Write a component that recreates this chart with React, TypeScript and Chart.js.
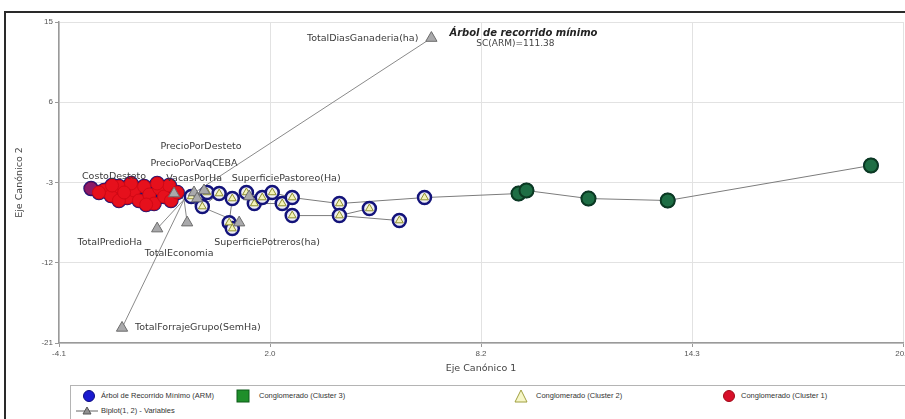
import React, { useEffect, useRef } from "react";
import { Chart, registerables } from "chart.js";

Chart.register(...registerables);

// Axis ticks
const xTicks = [-4.1, 2.025, 8.15, 14.275, 20.4];
const yTicks = [-21, -12, -3, 6, 15];

// Cluster 1 observations
const cluster1X = [-3.17, -2.79, -2.59, -2.36, -2.12, -1.92, -1.78, -1.63, -1.48, -1.34, -1.19, -1.05, -0.9, -0.85, -2.36, -2.01, -0.67, -2.56, -1.57, -1.25, -2.94, -2.21];
const cluster1Y = [-3.67, -3.9, -4.46, -3.45, -4.69, -3.9, -5.02, -3.45, -4.35, -5.36, -3.67, -4.57, -3.34, -5.02, -5.02, -3.11, -4.12, -3.34, -5.47, -3.11, -4.12, -4.12];

// Cluster 2 observations
const cluster2X = [-0.26, 0.06, 0.2, 0.55, 0.93, 0.84, 0.93, 1.34, 1.57, 1.8, 2.09, 2.38, 2.67, 2.67, 4.04, 4.04, 4.91, 5.78, 6.51];
const cluster2Y = [-4.57, -5.7, -4.12, -4.24, -4.8, -7.5, -8.17, -4.12, -5.36, -4.69, -4.12, -5.36, -4.69, -6.71, -5.36, -6.71, -5.92, -7.27, -4.69];

// Cluster 3 observations
const cluster3X = [9.24, 9.47, 11.27, 13.57, 19.47];
const cluster3Y = [-4.24, -3.9, -4.8, -5.02, -1.09];

// Minimum spanning tree, as chains of [cluster, index]
const armChains: [string, number][][] = [
  [["c1", 0], ["c1", 20], ["c1", 1], ["c1", 17], ["c1", 3], ["c1", 15], ["c1", 5], ["c1", 7], ["c1", 10], ["c1", 19], ["c1", 12], ["c1", 16], ["c2", 0]],
  [["c1", 2], ["c1", 21], ["c1", 4], ["c1", 14], ["c1", 6], ["c1", 18], ["c1", 9], ["c1", 13], ["c1", 16]],
  [["c2", 0], ["c2", 2], ["c2", 3], ["c2", 4], ["c2", 7], ["c2", 9], ["c2", 10], ["c2", 12], ["c2", 14], ["c2", 18], ["c3", 0], ["c3", 1], ["c3", 2], ["c3", 3], ["c3", 4]],
  [["c2", 1], ["c2", 3]],
  [["c2", 4], ["c2", 5], ["c2", 6]],
  [["c2", 8], ["c2", 11], ["c2", 13], ["c2", 15], ["c2", 17]],
  [["c2", 15], ["c2", 16]],
];

// Biplot variables
const variableNames = [
  "TotalDiasGanaderia(ha)",
  "TotalForrajeGrupo(SemHa)",
  "TotalPredioHa",
  "TotalEconomia",
  "SuperficiePotreros(ha)",
  "PrecioPorDesteto",
  "PrecioPorVaqCEBA",
  "CostoDesteto",
  "VacasPorHa",
  "SuperficiePastoreo(Ha)",
];
const variableX = [6.71, -2.27, -1.25, -0.38, 1.13, 0.11, -0.18, -0.76, -0.09, 1.42];
const variableY = [13.2, -19.31, -8.17, -7.5, -7.5, -3.9, -4.12, -4.24, -4.8, -4.57];
const biplotOrigin = { x: -0.47, y: -4.91 };

const armTitle = "Árbol de recorrido mínimo";
const armStat = "SC(ARM)=111.38";

const legendItems = [
  "Árbol de Recorrido Mínimo (ARM)",
  "Conglomerado (Cluster 3)",
  "Conglomerado (Cluster 2)",
  "Conglomerado (Cluster 1)",
  "Biplot(1, 2) - Variables",
];

// Text placement around each variable marker (pixels)
const labelPlacement: { dx: number; dy: number; align: CanvasTextAlign }[] = [
  { dx: -13, dy: 0, align: "right" },
  { dx: 13, dy: 0, align: "left" },
  { dx: -15, dy: 14, align: "right" },
  { dx: -8, dy: 31, align: "center" },
  { dx: 28, dy: 20, align: "center" },
  { dx: -3, dy: -44, align: "center" },
  { dx: 0, dy: -29, align: "center" },
  { dx: -60, dy: -17, align: "center" },
  { dx: -3, dy: -20, align: "center" },
  { dx: 37, dy: -18, align: "center" },
];

const FONT = "'Liberation Sans', Arial, sans-serif";
const WIDE = "'DejaVu Sans', Verdana, sans-serif";

const zip = (xs: number[], ys: number[]) => xs.map((x, i) => ({ x, y: ys[i] }));

const labelPlugin = {
  id: "biplotLabels",
  afterDatasetsDraw(chart: any) {
    const { ctx } = chart;
    const xs = chart.scales.x;
    const ys = chart.scales.y;
    ctx.save();
    ctx.font = `9.5px ${WIDE}`;
    ctx.fillStyle = "#3a3a3a";
    ctx.textBaseline = "middle";
    variableNames.forEach((name, i) => {
      const p = labelPlacement[i];
      ctx.textAlign = p.align;
      ctx.fillText(name, xs.getPixelForValue(variableX[i]) + p.dx, ys.getPixelForValue(variableY[i]) + p.dy);
    });
    const ax = xs.getPixelForValue(variableX[0]);
    const ay = ys.getPixelForValue(variableY[0]);
    ctx.fillStyle = "#222";
    ctx.textAlign = "left";
    ctx.font = `italic bold 10px ${WIDE}`;
    ctx.fillText(armTitle, ax + 18, ay - 5);
    ctx.font = `9px ${WIDE}`;
    ctx.textAlign = "center";
    ctx.fillStyle = "#444";
    ctx.fillText(armStat, ax + 84, ay + 6);
    ctx.restore();
  },
};

function Marker({ kind }: { kind: string }) {
  if (kind === "circleBlue")
    return (
      <svg width="14" height="14"><circle cx="7" cy="7" r="5.5" fill="#1a1ad0" stroke="#0c0c80" strokeWidth="1" /></svg>
    );
  if (kind === "square")
    return (
      <svg width="14" height="14"><rect x="1" y="1" width="12" height="12" fill="#1f8f2a" stroke="#0d5a18" strokeWidth="1" /></svg>
    );
  if (kind === "triangle")
    return (
      <svg width="14" height="14"><polygon points="7,1 13,13 1,13" fill="#f6f6c8" stroke="#a0a040" strokeWidth="1" /></svg>
    );
  if (kind === "circleRed")
    return (
      <svg width="14" height="14"><circle cx="7" cy="7" r="5.5" fill="#d8102a" stroke="#a00818" strokeWidth="1" /></svg>
    );
  return (
    <svg width="22" height="12">
      <line x1="0" y1="6" x2="22" y2="6" stroke="#666" strokeWidth="1" />
      <polygon points="11,2 15,9 7,9" fill="#909090" stroke="#555" strokeWidth="1" />
    </svg>
  );
}

export default function App() {
  const canvasRef = useRef<HTMLCanvasElement | null>(null);

  useEffect(() => {
    if (!canvasRef.current) return;
    const obs: Record<string, { x: number; y: number }[]> = {
      c1: zip(cluster1X, cluster1Y),
      c2: zip(cluster2X, cluster2Y),
      c3: zip(cluster3X, cluster3Y),
    };
    const allObs = [...obs.c1, ...obs.c2, ...obs.c3];
    const variables = zip(variableX, variableY);

    const edgeSets = armChains.map((chain) => ({
      data: chain.map(([k, i]) => obs[k][i]),
      showLine: true,
      borderColor: "#7c7c7c",
      borderWidth: 1,
      pointRadius: 0,
      order: 20,
    }));
    const vectorSets = variables.map((v) => ({
      data: [biplotOrigin, v],
      showLine: true,
      borderColor: "#8a8a8a",
      borderWidth: 1,
      pointRadius: 0,
      order: 19,
    }));

    const chart = new Chart(canvasRef.current, {
      type: "scatter",
      data: {
        datasets: [
          ...edgeSets,
          ...vectorSets,
          {
            data: allObs,
            pointStyle: "circle",
            pointRadius: 6.5,
            backgroundColor: "#eeeef6",
            borderColor: "#13137a",
            borderWidth: 2.5,
            order: 10,
          },
          {
            data: obs.c3,
            pointStyle: "circle",
            pointRadius: 7,
            backgroundColor: "#1e6e45",
            borderColor: "#0b3a22",
            borderWidth: 2,
            order: 5,
          },
          {
            data: obs.c2,
            pointStyle: "triangle",
            pointRadius: 4.5,
            backgroundColor: "#f3f3b8",
            borderColor: "#8f8f2c",
            borderWidth: 1,
            order: 4,
          },
          {
            data: obs.c1,
            pointStyle: "circle",
            pointRadius: 6.5,
            backgroundColor: (c: any) => (c.dataIndex === 0 ? "#8c1a68" : "#e6101c"),
            borderColor: (c: any) => (c.dataIndex === 0 ? "#6a1050" : "#d00814"),
            borderWidth: 1,
            order: 3,
          },
          {
            data: variables,
            pointStyle: "triangle",
            pointRadius: 6.5,
            backgroundColor: "#a9a9ab",
            borderColor: "#6c6c6c",
            borderWidth: 1,
            order: 1,
          },
        ] as any,
      },
      options: {
        responsive: false,
        animation: false,
        events: [],
        layout: { padding: { top: 22, right: 27, left: 0, bottom: 0 } },
        plugins: { legend: { display: false }, tooltip: { enabled: false } },
        scales: {
          x: {
            type: "linear",
            min: xTicks[0],
            max: xTicks[xTicks.length - 1],
            afterBuildTicks: (s: any) => {
              s.ticks = xTicks.map((v) => ({ value: v }));
            },
            afterFit: (s: any) => {
              s.height = 37;
            },
            ticks: {
              font: { family: FONT, size: 8 },
              color: "#555",
              padding: 2,
              maxRotation: 0,
              autoSkip: false,
              callback: (v: any) => Number(v).toFixed(1),
            },
            grid: { color: "#e2e2e2", tickLength: 4, tickColor: "#999" },
            border: { color: "#9a9a9a", width: 1.5 },
            title: {
              display: true,
              text: "Eje Canónico 1",
              font: { family: WIDE, size: 9.5 },
              color: "#444",
              padding: { top: 0, bottom: 6 },
            },
          },
          y: {
            type: "linear",
            min: yTicks[0],
            max: yTicks[yTicks.length - 1],
            afterBuildTicks: (s: any) => {
              s.ticks = yTicks.map((v) => ({ value: v }));
            },
            afterFit: (s: any) => {
              s.width = 59;
            },
            ticks: {
              font: { family: FONT, size: 8 },
              color: "#555",
              padding: 2,
              autoSkip: false,
              callback: (v: any) => String(v),
            },
            grid: { color: "#e2e2e2", tickLength: 4, tickColor: "#999" },
            border: { color: "#9a9a9a", width: 1.5 },
            title: {
              display: true,
              text: "Eje Canónico 2",
              font: { family: WIDE, size: 9.5 },
              color: "#444",
              padding: { top: 14, bottom: 0 },
            },
          },
        },
      },
      plugins: [labelPlugin],
    } as any);

    return () => chart.destroy();
  }, []);

  const legendText: React.CSSProperties = {
    position: "absolute",
    fontFamily: FONT,
    fontSize: "7.5px",
    color: "#333",
    whiteSpace: "nowrap",
    lineHeight: "10px",
  };
  const mk = (left: number, top: number): React.CSSProperties => ({ position: "absolute", left, top, lineHeight: 0 });

  return (
    <div
      style={{
        position: "fixed",
        left: 0,
        top: 0,
        width: 905,
        height: 419,
        overflow: "hidden",
        background: "#fff",
      }}
    >
      <canvas ref={canvasRef} width={930} height={380} style={{ position: "absolute", left: 0, top: 0 }} />
      <div style={{ position: "absolute", left: 4, top: 11, width: 905, height: 2, background: "#2a2a2a" }} />
      <div style={{ position: "absolute", left: 4, top: 11, width: 2, height: 410, background: "#2a2a2a" }} />
      <div
        style={{
          position: "absolute",
          left: 70,
          top: 385,
          width: 850,
          height: 40,
          border: "1px solid #b4b4b4",
          boxSizing: "border-box",
          background: "#fff",
        }}
      >
        <div style={mk(11, 3)}><Marker kind="circleBlue" /></div>
        <div style={{ ...legendText, left: 30, top: 5 }}>{legendItems[0]}</div>
        <div style={mk(165, 3)}><Marker kind="square" /></div>
        <div style={{ ...legendText, left: 188, top: 5 }}>{legendItems[1]}</div>
        <div style={mk(443, 3)}><Marker kind="triangle" /></div>
        <div style={{ ...legendText, left: 465, top: 5 }}>{legendItems[2]}</div>
        <div style={mk(651, 3)}><Marker kind="circleRed" /></div>
        <div style={{ ...legendText, left: 670, top: 5 }}>{legendItems[3]}</div>
        <div style={mk(5, 19)}><Marker kind="biplot" /></div>
        <div style={{ ...legendText, left: 30, top: 20 }}>{legendItems[4]}</div>
      </div>
    </div>
  );
}
